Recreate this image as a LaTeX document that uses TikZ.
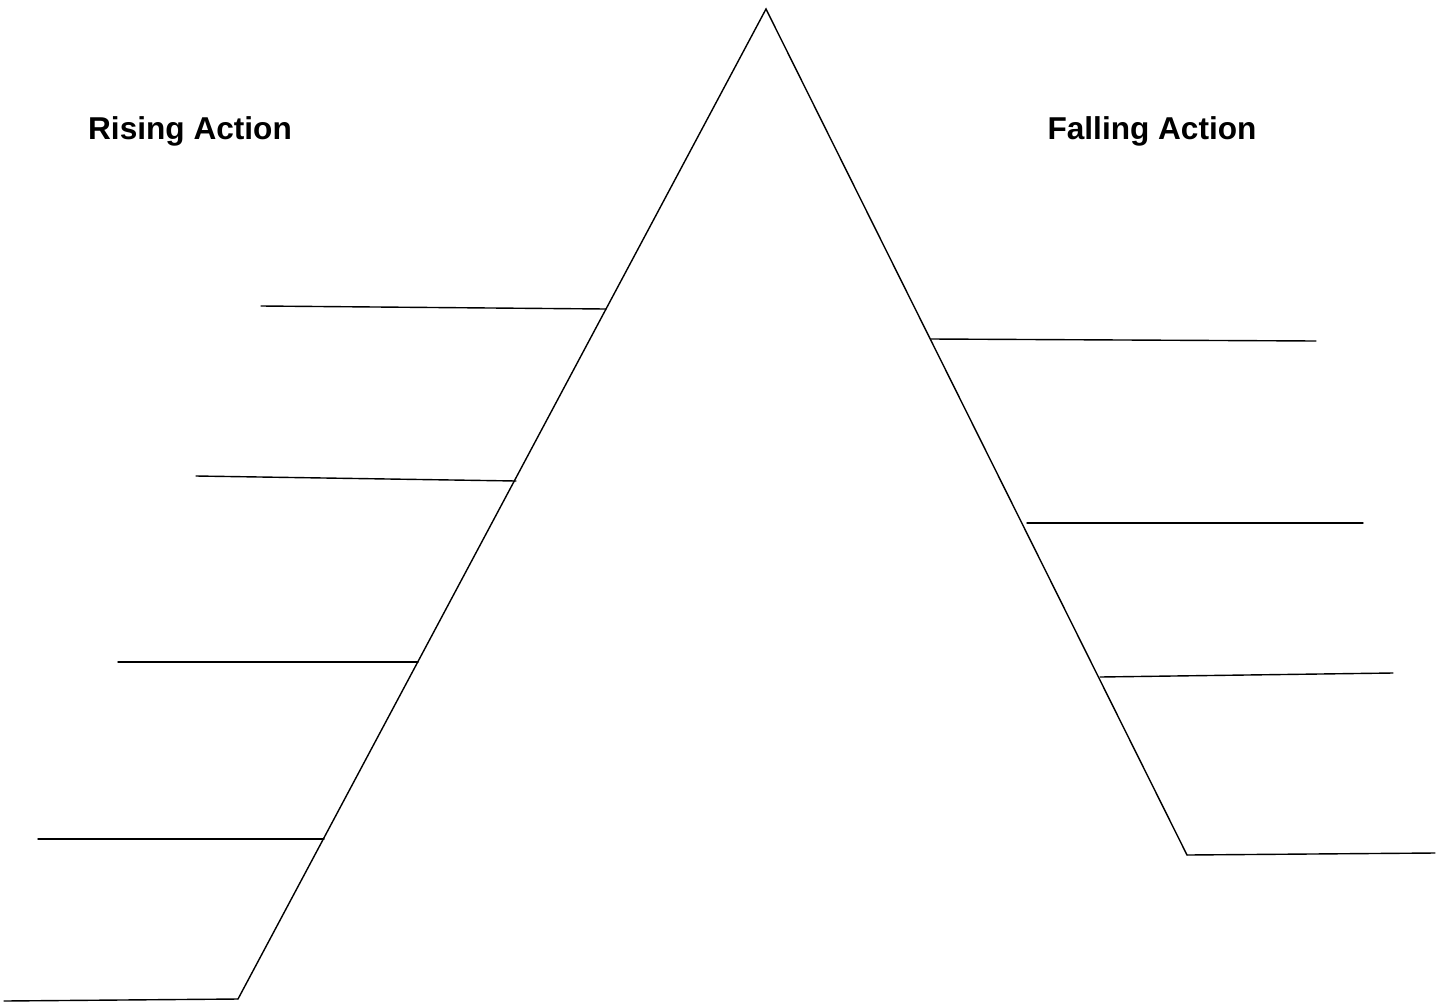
\documentclass[tikz,border=0pt]{standalone}
\usepackage{fontspec}
\setmainfont{Liberation Sans}
\begin{document}
\begin{tikzpicture}[x=1pt,y=-1pt,
  ln/.style={line width=1.4pt,line cap=round},
  lbl/.style={font=\fontsize{31.6}{38}\selectfont\bfseries,inner sep=0pt}]
\useasboundingbox (0,0) rectangle (1442,1004);
% peak and legs
\coordinate (top) at (766,9);
\coordinate (lb) at (238,999);
\coordinate (rb) at (1187,855);
\draw[ln] (lb) -- (top) -- (rb);
% left branches
\coordinate (l0a) at (4,1001);
\coordinate (l1a) at (261,306); \coordinate (l1b) at (606,309);
\coordinate (l2a) at (196,476); \coordinate (l2b) at (516,481);
\coordinate (l3a) at (118,662); \coordinate (l3b) at (418,662);
\coordinate (l4a) at (38,839);  \coordinate (l4b) at (324,839);
\draw[ln] (l0a) -- (lb);
\draw[ln] (l1a) -- (l1b);
\draw[ln] (l2a) -- (l2b);
\draw[ln] (l3a) -- (l3b);
\draw[ln] (l4a) -- (l4b);
% right branches
\coordinate (r1a) at (931,339);  \coordinate (r1b) at (1316,341);
\coordinate (r2a) at (1027,523); \coordinate (r2b) at (1363,523);
\coordinate (r3a) at (1100,677); \coordinate (r3b) at (1393,673);
\coordinate (r4b) at (1435,853);
\draw[ln] (r1a) -- (r1b);
\draw[ln] (r2a) -- (r2b);
\draw[ln] (r3a) -- (r3b);
\draw[ln] (rb) -- (r4b);
% labels
\node[lbl,anchor=base] (rising) at (190,139) {Rising Action};
\node[lbl,anchor=base] (falling) at (1152,139) {Falling Action};
\end{tikzpicture}
\end{document}
